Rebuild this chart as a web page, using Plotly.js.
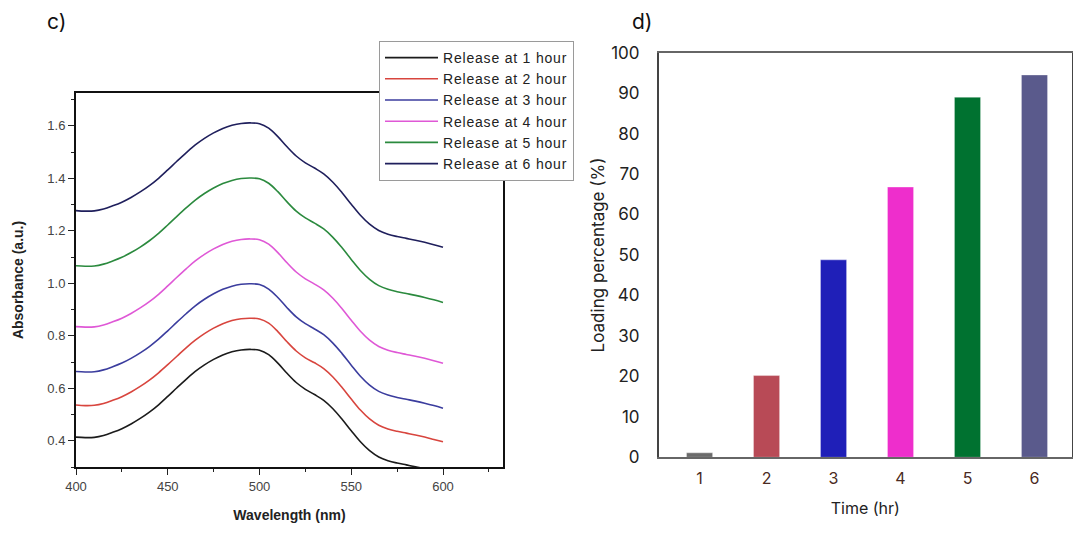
<!DOCTYPE html>
<html>
<head>
<meta charset="utf-8">
<script src="https://cdn.plot.ly/plotly-3.0.1.min.js"></script>
<style>
  html, body { margin: 0; padding: 0; background: #ffffff; }
  #chart { width: 1073px; height: 534px; }
  .legendtext { letter-spacing: 0.8px; }
</style>
</head>
<body>
<div id="chart"></div>
<script>
// ---- Panel c: UV-Vis absorbance spectra ----
const wavelength = [400, 405, 410, 415, 420, 425, 430, 435, 440, 445, 450, 455, 460, 465, 470, 475, 480, 485, 490, 495, 500, 505, 510, 515, 520, 525, 530, 535, 540, 545, 550, 555, 560, 565, 570, 575, 580, 585, 590, 595, 600];

const release1h = [0.414, 0.412, 0.413, 0.420, 0.432, 0.446, 0.464, 0.485, 0.509, 0.537, 0.569, 0.602, 0.634, 0.664, 0.689, 0.710, 0.727, 0.739, 0.746, 0.748, 0.745, 0.728, 0.696, 0.657, 0.622, 0.596, 0.576, 0.554, 0.522, 0.482, 0.438, 0.396, 0.362, 0.338, 0.324, 0.315, 0.308, 0.301, 0.293, 0.284, 0.274];
const release2h = [0.536, 0.534, 0.535, 0.542, 0.554, 0.568, 0.586, 0.607, 0.631, 0.659, 0.690, 0.722, 0.754, 0.783, 0.808, 0.829, 0.846, 0.858, 0.865, 0.867, 0.864, 0.848, 0.816, 0.777, 0.742, 0.716, 0.697, 0.675, 0.643, 0.603, 0.559, 0.517, 0.483, 0.459, 0.445, 0.436, 0.429, 0.422, 0.414, 0.405, 0.396];
const release3h = [0.664, 0.662, 0.663, 0.670, 0.682, 0.696, 0.714, 0.735, 0.759, 0.787, 0.819, 0.852, 0.884, 0.914, 0.939, 0.960, 0.977, 0.989, 0.996, 0.998, 0.995, 0.978, 0.946, 0.907, 0.872, 0.846, 0.826, 0.804, 0.772, 0.732, 0.688, 0.646, 0.612, 0.588, 0.574, 0.565, 0.558, 0.551, 0.543, 0.534, 0.524];
const release4h = [0.835, 0.833, 0.834, 0.841, 0.853, 0.867, 0.885, 0.906, 0.930, 0.958, 0.990, 1.023, 1.055, 1.085, 1.110, 1.131, 1.148, 1.160, 1.167, 1.169, 1.166, 1.149, 1.117, 1.078, 1.043, 1.017, 0.997, 0.975, 0.943, 0.903, 0.859, 0.817, 0.783, 0.759, 0.745, 0.736, 0.729, 0.722, 0.714, 0.705, 0.695];
const release5h = [1.067, 1.065, 1.066, 1.073, 1.085, 1.099, 1.117, 1.138, 1.162, 1.190, 1.222, 1.255, 1.287, 1.317, 1.342, 1.363, 1.380, 1.392, 1.399, 1.401, 1.398, 1.381, 1.349, 1.310, 1.275, 1.249, 1.229, 1.207, 1.175, 1.135, 1.091, 1.049, 1.015, 0.991, 0.977, 0.968, 0.961, 0.954, 0.946, 0.937, 0.927];
const release6h = [1.277, 1.275, 1.276, 1.283, 1.295, 1.309, 1.327, 1.348, 1.372, 1.400, 1.432, 1.465, 1.497, 1.527, 1.552, 1.573, 1.590, 1.602, 1.609, 1.611, 1.608, 1.591, 1.559, 1.520, 1.485, 1.459, 1.439, 1.417, 1.385, 1.345, 1.301, 1.259, 1.225, 1.201, 1.187, 1.178, 1.171, 1.164, 1.156, 1.147, 1.137];

const seriesNames = ["Release at 1 hour", "Release at 2 hour", "Release at 3 hour", "Release at 4 hour", "Release at 5 hour", "Release at 6 hour"];
const seriesData = [release1h, release2h, release3h, release4h, release5h, release6h];
const lineColors = ["#1b1b1b", "#d8453e", "#3b3d9e", "#df58d6", "#2b8a3e", "#1f1f5c"];

// ---- Panel d: loading percentage ----
const timeHr = [1, 2, 3, 4, 5, 6];
const timeLabels = ["1", "2", "3", "4", "5", "6"];
const loadingPct = [1.1, 20.2, 48.8, 66.8, 89.0, 94.5];
const barColors = ["#6b6b6b", "#b84a56", "#1f1fb8", "#ee2ecc", "#007230", "#5a5a8c"];

const W = 1073, H = 534;
const px = v => v / W;
const py = v => 1 - v / H;

const traces = seriesData.map((ys, i) => ({
  type: "scatter",
  mode: "lines",
  x: wavelength,
  y: ys,
  name: seriesNames[i],
  line: { color: lineColors[i], width: 1.6, shape: "spline", smoothing: 1.0 },
  xaxis: "x",
  yaxis: "y",
  hoverinfo: "x+y+name"
}));

traces.push({
  type: "bar",
  x: timeHr,
  y: loadingPct,
  marker: { color: barColors, line: { color: "rgba(255,255,255,0.35)", width: 1 } },
  width: 0.39,
  showlegend: false,
  xaxis: "x2",
  yaxis: "y2"
});

const arial = "Liberation Sans, Arial, sans-serif";
const geo = "Inter, Lato, sans-serif";

const layout = {
  width: W,
  height: H,
  margin: { l: 0, r: 0, t: 0, b: 0 },
  paper_bgcolor: "#ffffff",
  plot_bgcolor: "#ffffff",
  showlegend: true,
  legend: {
    x: px(379), y: py(41), xanchor: "left", yanchor: "top",
    bgcolor: "#ffffff", bordercolor: "#9a9a9a", borderwidth: 1,
    font: { family: arial, size: 14, color: "#222222" },
    itemwidth: 53,
    tracegroupgap: 0
  },
  xaxis: {
    domain: [px(76), px(503)],
    range: [400, 632.7],
    tick0: 400, dtick: 50,
    ticks: "outside", ticklen: 6, tickwidth: 1.2, tickcolor: "#222",
    minor: { ticks: "outside", ticklen: 3, dtick: 25, tick0: 400, tickcolor: "#222" },
    showline: true, mirror: true, linecolor: "#111", linewidth: 2,
    showgrid: false, zeroline: false,
    tickfont: { family: arial, size: 13, color: "#444" },
    title: { text: "<b>Wavelength (nm)</b>", font: { family: arial, size: 14, color: "#222" }, standoff: 18 }
  },
  yaxis: {
    domain: [py(467), py(93)],
    range: [0.3, 1.725],
    tick0: 0.4, dtick: 0.2, tickformat: ".1f",
    ticks: "outside", ticklen: 6, tickwidth: 1.2, tickcolor: "#222",
    minor: { ticks: "outside", ticklen: 3, dtick: 0.1, tick0: 0.3, tickcolor: "#222" },
    showline: true, mirror: true, linecolor: "#111", linewidth: 2,
    showgrid: false, zeroline: false,
    tickfont: { family: arial, size: 13, color: "#444" },
    title: { text: "<b>Absorbance (a.u.)</b>", font: { family: arial, size: 14, color: "#222" }, standoff: 20 }
  },
  xaxis2: {
    domain: [px(658.7), px(1072)],
    range: [0.39, 6.56],
    tickvals: timeHr, ticktext: timeLabels,
    ticks: "", ticklabelstandoff: 6,
    showline: true, mirror: true, linecolor: "#666", linewidth: 1.5,
    showgrid: false, zeroline: false,
    tickfont: { family: geo, size: 16, color: "#4a2a22" },
    title: { text: "Time (hr)", font: { family: geo, size: 16, color: "#222" }, standoff: 16 },
    anchor: "y2"
  },
  yaxis2: {
    domain: [py(457.3), py(52.7)],
    range: [0, 100],
    dtick: 10,
    ticks: "", ticklabelstandoff: 14,
    showline: true, mirror: true, linecolor: "#444", linewidth: 1.5,
    showgrid: false, zeroline: false,
    tickfont: { family: geo, size: 17, color: "#222" },
    title: { text: "Loading percentage (%)", font: { family: geo, size: 17, color: "#222" }, standoff: 2 },
    anchor: "x2"
  },
  annotations: [
    { text: "c)", xref: "paper", yref: "paper", x: px(56), y: py(22), xanchor: "center", yanchor: "middle",
      showarrow: false, font: { family: geo, size: 21, color: "#111" } },
    { text: "d)", xref: "paper", yref: "paper", x: px(642), y: py(22), xanchor: "center", yanchor: "middle",
      showarrow: false, font: { family: geo, size: 21, color: "#111" } }
  ]
};

Plotly.newPlot("chart", traces, layout, { displayModeBar: false, responsive: false });
</script>
</body>
</html>
